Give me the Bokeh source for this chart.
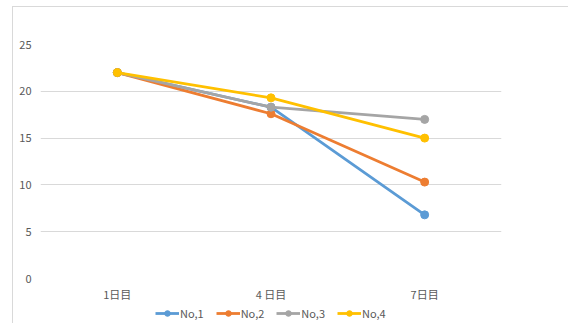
from bokeh.plotting import figure
from bokeh.layouts import column
from bokeh.models import FactorRange, Range1d, Legend, LegendItem, SingleIntervalTicker
from bokeh.embed import file_html
from bokeh.resources import INLINE

# Days on the x axis and one measured series per sample
days = ["1日目", "4 日目", "7日目"]
series_names = ["No,1", "No,2", "No,3", "No,4"]
no1 = [22.0, 18.3, 6.8]
no2 = [22.0, 17.6, 10.3]
no3 = [22.0, 18.3, 17.0]
no4 = [22.0, 19.3, 15.0]

colors = ["#5B9BD5", "#ED7D31", "#A5A5A5", "#FFC000"]
FONT = "Noto Sans CJK JP"
TEXT = "#595959"
GRID = "#D9D9D9"

p = figure(
    x_range=FactorRange(*days, range_padding=0),
    y_range=Range1d(0, 25),
    width=555, height=298,
    output_backend="svg", toolbar_location=None,
    min_border_left=27, min_border_right=67,
    min_border_top=37, min_border_bottom=27,
    outline_line_color=None,
    background_fill_color="white", border_fill_color="white",
)

# Axes: labels only, gridlines carry the scale
p.yaxis.ticker = SingleIntervalTicker(interval=5)
for ax in (p.xaxis[0], p.yaxis[0]):
    ax.axis_line_color = None
    ax.major_tick_line_color = None
    ax.minor_tick_line_color = None
    ax.major_tick_out = 0
    ax.major_tick_in = 0
    ax.minor_tick_out = 0
    ax.minor_tick_in = 0
    ax.major_label_text_color = TEXT
    ax.major_label_text_font = FONT
    ax.major_label_text_font_size = "11px"
p.yaxis.major_label_standoff = 9
p.xaxis.major_label_standoff = 7

p.xgrid.grid_line_color = None
p.ygrid.grid_line_color = GRID
p.ygrid.grid_line_width = 1

for vals, col in zip([no1, no2, no3, no4], colors):
    p.line(days, vals, line_color=col, line_width=2.8)
    p.scatter(days, vals, size=8, fill_color=col, line_color=col)

# Legend strip under the chart; its key renderers sit outside the visible range
lf = figure(
    width=555, height=18, x_range=Range1d(0, 1), y_range=Range1d(0, 1),
    output_backend="svg", toolbar_location=None,
    x_axis_type=None, y_axis_type=None,
    min_border=0, outline_line_color=None,
    background_fill_color="white", border_fill_color="white",
)
lf.xgrid.visible = False
lf.ygrid.visible = False
key_x = [5, 6]
key_y = [5, 6]
items = []
for name, col in zip(series_names, colors):
    ln = lf.line(x=key_x, y=key_y, line_color=col, line_width=2.8)
    mk = lf.scatter(x=key_x, y=key_y, size=8, fill_color=col, line_color=col)
    items.append(LegendItem(label=name, renderers=[ln, mk]))

legend = Legend(
    items=items, orientation="horizontal", location=(115, 2),
    label_text_font=FONT, label_text_font_size="11px", label_text_color=TEXT,
    glyph_width=24, glyph_height=14, label_standoff=1, spacing=12,
    padding=0, margin=0, border_line_color=None, background_fill_alpha=0,
)
lf.add_layout(legend)

# Chart-area frame: thin grey rule on the left and top edges
page = column(p, lf, spacing=0, margin=(6, 0, 0, 12),
              styles={"border-left": f"1px solid {GRID}", "border-top": f"1px solid {GRID}"})

open("out.html", "w").write(file_html(page, INLINE))
